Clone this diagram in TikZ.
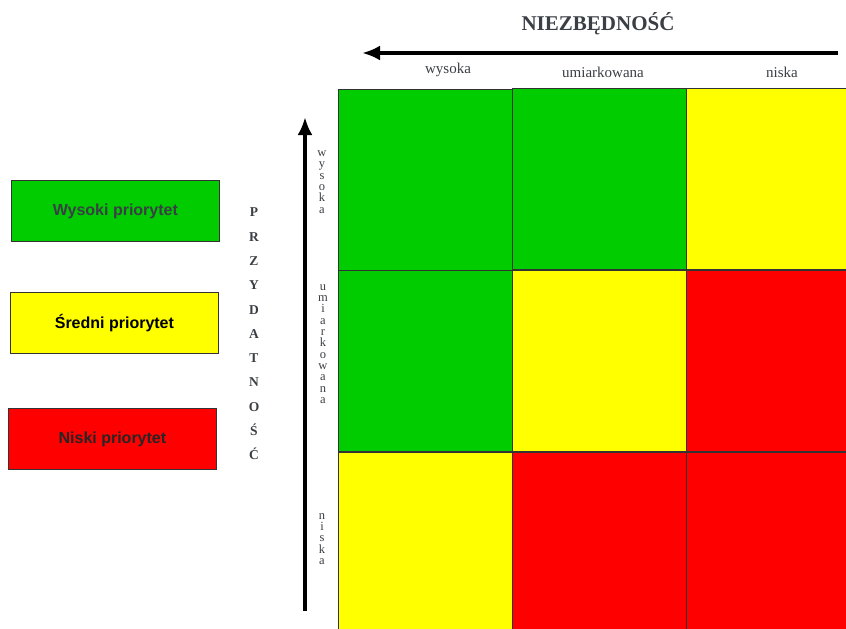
\documentclass[tikz,border=0pt]{standalone}
\usepackage{fontspec}
\setmainfont{Liberation Serif}
\setsansfont{Liberation Sans}
\usetikzlibrary{arrows.meta}
\definecolor{cgreen}{HTML}{00CC00}
\definecolor{cyellow}{HTML}{FFFF00}
\definecolor{cred}{HTML}{FF0000}
\definecolor{txtgrey}{HTML}{3A3F45}
\definecolor{edgegrey}{HTML}{333333}
\begin{document}
\begin{tikzpicture}[x=1pt,y=-1pt,
  cell/.style={draw=edgegrey,line width=0.8pt,inner sep=0pt,anchor=north west,minimum width=174pt,minimum height=181pt},
  legbox/.style={draw=edgegrey,line width=0.8pt,inner sep=0pt,anchor=north west,minimum width=208pt,minimum height=61pt,font=\sffamily\bfseries\fontsize{16}{18}\selectfont},
  axlab/.style={font=\fontsize{15}{17}\selectfont,text=txtgrey,inner sep=0pt},
  vlab/.style={font=\fontsize{12.5}{11.3}\selectfont,text=txtgrey,inner sep=0pt,align=center},
  axarrow/.style={line width=4pt,-{Latex[length=18pt,width=15pt]}}
]
\useasboundingbox (0,0) rectangle (846,629);
% grid
\node[cell,fill=cgreen] (c11) at (338,89) {};
\node[cell,fill=cgreen] (c12) at (512,88) {};
\node[cell,fill=cyellow,minimum width=160pt] (c13) at (686,88) {};
\node[cell,fill=cgreen] (c21) at (338,270) {};
\node[cell,fill=cyellow] (c22) at (512,270) {};
\node[cell,fill=cred,minimum width=160pt] (c23) at (686,270) {};
\node[cell,fill=cyellow,minimum height=178pt] (c31) at (338,452) {};
\node[cell,fill=cred,minimum height=178pt] (c32) at (512,452) {};
\node[cell,fill=cred,minimum width=160pt,minimum height=178pt] (c33) at (686,452) {};
% top axis
\node[font=\bfseries\fontsize{21}{24}\selectfont,text=txtgrey,inner sep=0pt] (title) at (598,24) {NIEZBĘDNOŚĆ};
\coordinate (hstart) at (838,53);
\coordinate (hend) at (362,53);
\draw[axarrow] (hstart) -- (hend);
\node[axlab] (hw) at (448,70) {wysoka};
\node[axlab] (hu) at (603,72) {umiarkowana};
\node[axlab] (hn) at (782,72) {niska};
% left axis
\coordinate (vstart) at (305,611);
\coordinate (vend) at (305,117);
\draw[axarrow] (vstart) -- (vend);
\node[vlab] (vw) at (322,182) {w\\y\\s\\o\\k\\a};
\node[vlab] (vu) at (323,344) {u\\m\\i\\a\\r\\k\\o\\w\\a\\n\\a};
\node[vlab] (vn) at (322,539) {n\\i\\s\\k\\a};
\node[font=\bfseries\fontsize{13.5}{24.3}\selectfont,text=txtgrey,inner sep=0pt,align=center] (przyd) at (254,334) {P\\R\\Z\\Y\\D\\A\\T\\N\\O\\Ś\\Ć};
% legend
\node[legbox,fill=cgreen,text=txtgrey] (lg) at (11,180) {Wysoki priorytet};
\node[legbox,fill=cyellow,text=black] (ly) at (10,292) {Średni priorytet};
\node[legbox,fill=cred,text=black!85] (lr) at (8,408) {Niski priorytet};
\end{tikzpicture}
\end{document}
